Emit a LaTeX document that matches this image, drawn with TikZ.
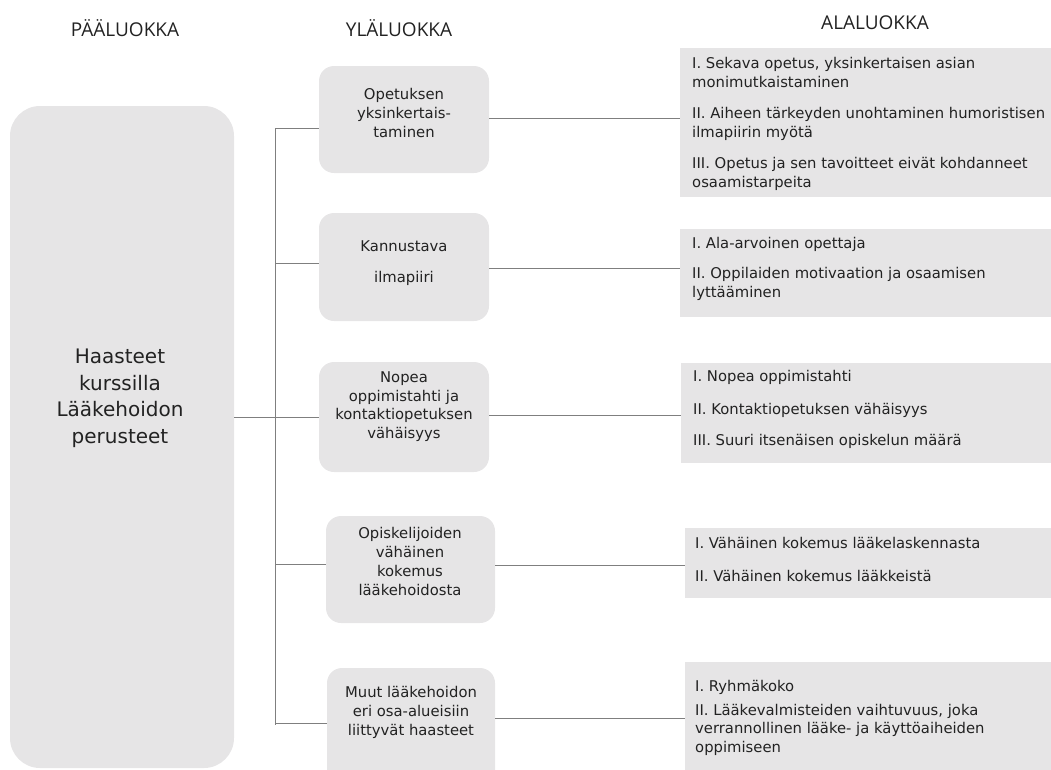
\documentclass[tikz,border=0pt]{standalone}
\usepackage{fontspec}
\setmainfont{DejaVu Sans}
\newfontfamily\hdrfont{Open Sans}
\begin{document}
\begin{tikzpicture}[x=1pt,y=-1pt,
  boxfill/.style={fill=boxgray,draw=none,inner sep=0pt},
  mainbox/.style={boxfill,rounded corners=30pt},
  midbox/.style={boxfill,rounded corners=15pt},
  subbox/.style={boxfill},
  hdr/.style={font=\hdrfont\fontsize{19}{22}\selectfont,text=txtgray,inner sep=0pt},
  midtxt/.style={font=\fontsize{14.8}{19}\selectfont,align=center,text=txtgray,inner sep=0pt,anchor=base},
  subtxt/.style={font=\fontsize{14.8}{18.5}\selectfont,align=left,text=txtgray,inner sep=0pt,anchor=base west},
  maintxt/.style={font=\fontsize{20}{26.7}\selectfont,align=center,text=txtgray,inner sep=0pt,anchor=base},
  conn/.style={draw=linegray,line width=0.9pt}
]
\definecolor{boxgray}{HTML}{E6E5E6}
\definecolor{linegray}{HTML}{7F7F7F}
\definecolor{txtgray}{HTML}{222222}
\useasboundingbox (0,0) rectangle (1051,769);
\begin{scope}
\clip (0,0) rectangle (1051,769);
% headers
\node[hdr] (h1) at (125,28) {PÄÄLUOKKA};
\node[hdr] (h2) at (399,28) {YLÄLUOKKA};
\node[hdr] (h3) at (875,23) {ALALUOKKA};
% main box
\node[mainbox,minimum width=224pt,minimum height=662pt] (main) at (122,437) {};
\node[maintxt] (maint) at (120,443.6) {Haasteet\\kurssilla\\Lääkehoidon\\perusteet};
% middle boxes
\node[midbox,minimum width=170pt,minimum height=107pt] (m1) at (404,119.5) {};
\node[midbox,minimum width=170pt,minimum height=108pt] (m2) at (404,267) {};
\node[midbox,minimum width=170pt,minimum height=110pt] (m3) at (404,417) {};
\node[midbox,minimum width=169pt,minimum height=107pt] (m4) at (410.5,569.5) {};
\node[midbox,minimum width=168pt,minimum height=124pt] (m5) at (411,730) {};
\node[midtxt] (m1t) at (404,137) {Opetuksen\\yksinkertais-\\taminen};
\node[midtxt] (m2ta) at (404,251) {Kannustava};
\node[midtxt] (m2tb) at (404,282) {ilmapiiri};
\node[midtxt,font=\fontsize{14.8}{18.4}\selectfont] (m3t) at (404,438) {Nopea\\oppimistahti ja\\kontaktiopetuksen\\vähäisyys};
\node[midtxt] (m4t) at (410,595) {Opiskelijoiden\\vähäinen\\kokemus\\lääkehoidosta};
\node[midtxt] (m5t) at (411,735) {Muut lääkehoidon\\eri osa-alueisiin\\liittyvät haasteet};
% sub boxes
\node[subbox,minimum width=371pt,minimum height=149pt] (r1) at (865.5,122.5) {};
\node[subbox,minimum width=371pt,minimum height=88pt] (r2) at (865.5,273) {};
\node[subbox,minimum width=370pt,minimum height=100pt] (r3) at (866,413) {};
\node[subbox,minimum width=366pt,minimum height=70pt] (r4) at (868,563) {};
\node[subbox,minimum width=366pt,minimum height=130pt] (r5) at (868,727) {};
\node[subtxt,font=\fontsize{14.8}{19}\selectfont] (r1a) at (692,87) {I. Sekava opetus, yksinkertaisen asian\\monimutkaistaminen};
\node[subtxt,font=\fontsize{14.8}{19}\selectfont] (r1b) at (692,137) {II. Aiheen tärkeyden unohtaminen humoristisen\\ilmapiirin myötä};
\node[subtxt,font=\fontsize{14.8}{19}\selectfont] (r1c) at (692,187) {III. Opetus ja sen tavoitteet eivät kohdanneet\\osaamistarpeita};
\node[subtxt] (r2a) at (692,248) {I. Ala-arvoinen opettaja};
\node[subtxt] (r2b) at (692,297) {II. Oppilaiden motivaation ja osaamisen\\lyttääminen};
\node[subtxt] (r3a) at (693,381) {I. Nopea oppimistahti};
\node[subtxt] (r3b) at (693,414) {II. Kontaktiopetuksen vähäisyys};
\node[subtxt] (r3c) at (693,445) {III. Suuri itsenäisen opiskelun määrä};
\node[subtxt] (r4a) at (695,548) {I. Vähäinen kokemus lääkelaskennasta};
\node[subtxt] (r4b) at (695,581) {II. Vähäinen kokemus lääkkeistä};
\node[subtxt] (r5a) at (695,691) {I. Ryhmäkoko};
\node[subtxt] (r5b) at (695,752) {II. Lääkevalmisteiden vaihtuvuus, joka\\verrannollinen lääke- ja käyttöaiheiden\\oppimiseen};
% connectors
\coordinate (ta) at (275,128);
\coordinate (tb) at (275,725);
\coordinate (y0) at (0,417);
\coordinate (y1) at (0,128);
\coordinate (y2) at (0,263);
\coordinate (y4) at (0,564);
\coordinate (y5) at (0,723);
\draw[conn] (ta) -- (tb);
\draw[conn] (main.east |- y0) -- (m3.west |- y0);
\draw[conn] (ta) -- (m1.west |- y1);
\draw[conn] (ta |- y2) -- (m2.west |- y2);
\draw[conn] (ta |- y4) -- (m4.west |- y4);
\draw[conn] (ta |- y5) -- (m5.west |- y5);
\coordinate (z1) at (0,118);
\coordinate (z2) at (0,268);
\coordinate (z3) at (0,415);
\coordinate (z4) at (0,565);
\coordinate (z5) at (0,718);
\draw[conn] (m1.east |- z1) -- (r1.west |- z1);
\draw[conn] (m2.east |- z2) -- (r2.west |- z2);
\draw[conn] (m3.east |- z3) -- (r3.west |- z3);
\draw[conn] (m4.east |- z4) -- (r4.west |- z4);
\draw[conn] (m5.east |- z5) -- (r5.west |- z5);
\end{scope}
\end{tikzpicture}
\end{document}
